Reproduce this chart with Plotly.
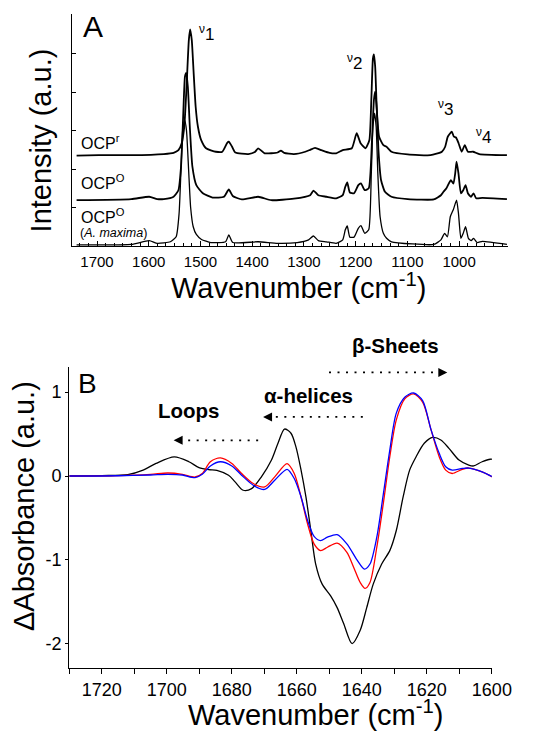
import plotly.graph_objects as go

FONT = "Liberation Sans, Arial, sans-serif"

# ---------------- Panel A : Raman spectra ----------------
ocpr_wn = [1739.5, 1696.7, 1633.8, 1570.9, 1552.0, 1542.6, 1536.3, 1531.3, 1526.9, 1522.5, 1520.0,
           1516.8, 1513.1, 1509.3, 1504.9, 1498.6, 1489.2, 1470.3, 1457.7, 1448.3, 1445.2, 1438.9,
           1432.6, 1407.4, 1394.8, 1388.5, 1375.9, 1350.8, 1344.5, 1338.2, 1319.4, 1297.4, 1287.9,
           1278.5, 1265.9, 1250.2, 1237.6, 1225.0, 1207.4, 1198.0, 1190.4, 1181.0, 1173.5, 1169.7,
           1166.6, 1164.7, 1162.2, 1159.0, 1154.6, 1146.4, 1140.2, 1130.7, 1099.3, 1055.3, 1033.2,
           1026.9, 1021.9, 1014.0, 1010.0, 1006.0, 1001.0, 995.0, 989.0, 983.0, 973.0, 961.0, 907.5]
ocpr_int = [2.35, 2.36, 2.36, 2.39, 2.42, 2.49, 2.67, 3.10, 4.14, 5.35, 5.63,
            5.35, 4.48, 3.62, 3.10, 2.75, 2.54, 2.45, 2.45, 2.68, 2.71, 2.58,
            2.43, 2.39, 2.44, 2.54, 2.41, 2.43, 2.48, 2.42, 2.39, 2.45, 2.50,
            2.55, 2.49, 2.42, 2.41, 2.49, 2.54, 2.93, 2.67, 2.54, 2.75, 3.79,
            4.87, 4.98, 4.66, 3.53, 2.84, 2.62, 2.58, 2.45, 2.38, 2.36, 2.45,
            2.58, 2.84, 2.97, 2.84, 2.82, 2.67, 2.45, 2.62, 2.45, 2.45, 2.39, 2.36]

ocpo_wn = [1739.5, 1633.8, 1599.2, 1583.5, 1570.9, 1552.0, 1542.6, 1537.6, 1533.2, 1530.0, 1527.5,
           1524.4, 1520.6, 1515.6, 1508.0, 1495.4, 1476.6, 1454.6, 1445.2, 1437.6, 1420.0, 1388.5,
           1363.4, 1319.4, 1287.9, 1281.6, 1272.2, 1256.5, 1237.6, 1225.0, 1220.0, 1216.2, 1211.2,
           1203.0, 1194.9, 1189.8, 1182.3, 1174.7, 1168.4, 1164.7, 1162.2, 1159.0, 1155.9, 1150.8,
           1143.3, 1130.7, 1099.3, 1049.0, 1035.1, 1030.1, 1024.5, 1016.0, 1011.0, 1007.5, 1004.9,
           1001.2, 996.5, 992.0, 987.5, 983.0, 977.0, 972.0, 967.0, 955.0, 907.5]
ocpo_int = [1.19, 1.22, 1.28, 1.22, 1.22, 1.28, 1.45, 2.06, 3.45, 4.40, 4.50,
            4.14, 3.10, 2.06, 1.58, 1.37, 1.26, 1.28, 1.47, 1.30, 1.21, 1.28,
            1.19, 1.23, 1.32, 1.44, 1.32, 1.28, 1.24, 1.32, 1.54, 1.65, 1.39,
            1.37, 1.58, 1.63, 1.45, 1.50, 2.75, 3.79, 4.01, 3.53, 2.49, 1.71,
            1.41, 1.28, 1.22, 1.21, 1.32, 1.41, 1.50, 1.71, 1.62, 1.89, 2.19,
            1.89, 1.37, 1.45, 1.58, 1.37, 1.28, 1.37, 1.24, 1.25, 1.22]

amax_wn = [1739.5, 1633.8, 1599.2, 1583.5, 1558.3, 1547.0, 1541.3, 1537.6, 1534.4, 1530.5, 1527.0,
           1523.0, 1519.0, 1514.0, 1508.0, 1498.0, 1480.0, 1451.4, 1445.2, 1437.6, 1388.5, 1350.8,
           1313.1, 1291.0, 1281.6, 1272.2, 1256.5, 1237.6, 1225.0, 1220.0, 1216.2, 1211.2, 1203.0,
           1194.9, 1189.8, 1182.3, 1174.7, 1169.7, 1166.6, 1163.4, 1160.3, 1157.1, 1152.7, 1146.4,
           1140.2, 1130.7, 1049.0, 1035.1, 1028.0, 1022.5, 1017.0, 1011.0, 1004.9, 1001.2, 996.5,
           992.0, 987.5, 982.0, 976.6, 972.0, 965.0, 955.0, 907.5]
amax_int = [0.03, 0.04, 0.14, 0.07, 0.11, 0.24, 0.85, 2.00, 3.00, 3.27, 3.00,
            2.00, 1.00, 0.50, 0.30, 0.17, 0.09, 0.11, 0.29, 0.09, 0.11, 0.07,
            0.09, 0.16, 0.26, 0.14, 0.11, 0.07, 0.16, 0.42, 0.52, 0.23, 0.23,
            0.46, 0.53, 0.33, 0.42, 1.89, 3.10, 3.45, 3.10, 1.89, 0.76, 0.33,
            0.20, 0.11, 0.04, 0.16, 0.33, 0.24, 0.76, 0.95, 1.19, 0.85, 0.20,
            0.33, 0.50, 0.20, 0.14, 0.20, 0.09, 0.12, 0.04]

# ---------------- Panel B : FTIR difference spectra ----------------
black_wn = [1730, 1720, 1712, 1707.3, 1703.3, 1697.7, 1693.2, 1690.1, 1687.1, 1684.6, 1681, 1679,
            1676.5, 1673.9, 1670.9, 1667.8, 1665.8, 1663.8, 1661.8, 1660.3, 1658.7, 1657.2, 1655.7,
            1654.2, 1652.2, 1649.6, 1647.6, 1645.6, 1643, 1640.5, 1638.5, 1636.5, 1633.9, 1631.4,
            1629.4, 1627.3, 1625.3, 1623.3, 1620.8, 1618.2, 1615.7, 1613.2, 1610.1, 1607.1, 1605.6,
            1603, 1600.5, 1598.3]
black_abs = [0.0, 0.005, 0.016, 0.07, 0.15, 0.227, 0.17, 0.10, 0.076, 0.068, 0.008, -0.07,
             -0.17, -0.15, -0.01, 0.19, 0.39, 0.56, 0.51, 0.35, 0.07, -0.25, -0.65,
             -1.05, -1.29, -1.43, -1.57, -1.76, -2.0, -1.84, -1.57, -1.29, -1.05, -0.89,
             -0.65, -0.25, 0.07, 0.23, 0.39, 0.46, 0.43, 0.33, 0.19, 0.13, 0.12,
             0.17, 0.20, 0.19]

red_wn = [1730, 1715, 1705, 1699.7, 1695.2, 1691.3, 1689.1, 1686.6, 1683.5, 1680, 1677, 1673.4,
          1669.9, 1666.8, 1663, 1660.8, 1658.7, 1656.7, 1654.7, 1652.7, 1650.6, 1647.6, 1644.6,
          1642.5, 1640.5, 1639, 1637.5, 1635.4, 1633.4, 1631.4, 1629.4, 1626.8, 1624.1, 1621.3,
          1618.7, 1616.2, 1614.2, 1612.2, 1609.1, 1607.1, 1603, 1598.3]
red_abs = [0.0, 0.005, 0.02, 0.036, 0.02, -0.012, 0.03, 0.17, 0.215, 0.15, 0.03, -0.09,
           -0.13, -0.01, 0.147, 0.03, -0.25, -0.57, -0.81, -0.89, -0.85, -0.80, -0.91,
           -1.09, -1.27, -1.34, -1.27, -0.85, -0.33, 0.23, 0.67, 0.92, 0.98, 0.88,
           0.55, 0.23, 0.07, 0.03, 0.08, 0.095, 0.048, -0.044]

blue_wn = [1730, 1715, 1705, 1699.7, 1695.2, 1691.3, 1689.1, 1686.6, 1683.5, 1680, 1677, 1673.4,
           1669.9, 1666.8, 1663, 1660.8, 1658.7, 1656.7, 1654.7, 1652.7, 1650.6, 1647.6, 1644.6,
           1641.5, 1639.2, 1637.5, 1635.4, 1633.4, 1631.4, 1629.4, 1626.8, 1624.1, 1621.3,
           1618.7, 1616.2, 1614.2, 1612.2, 1609.1, 1607.1, 1603, 1598.3]
blue_abs = [0.0, 0.003, 0.012, 0.02, 0.012, -0.02, 0.02, 0.12, 0.17, 0.12, 0.01, -0.11,
            -0.16, -0.05, 0.08, -0.03, -0.25, -0.53, -0.72, -0.77, -0.73, -0.70, -0.81,
            -1.0, -1.11, -1.05, -0.73, -0.22, 0.31, 0.75, 0.94, 0.99, 0.90,
            0.55, 0.27, 0.11, 0.07, 0.09, 0.095, 0.05, -0.04]

top_x_ticks = [1700, 1600, 1500, 1400, 1300, 1200, 1100, 1000]
bot_x_ticks = [1720, 1700, 1680, 1660, 1640, 1620, 1600]
bot_y_ticks = [1, 0, -1, -2]
bot_y_text = ["1", "0", "-1", "-2"]

W, H = 534, 732


def px(x):
    return x / W


def py(y):
    return 1 - y / H


fig = go.Figure()
for xs, ys, w in [(ocpr_wn, ocpr_int, 1.8), (ocpo_wn, ocpo_int, 1.8), (amax_wn, amax_int, 1.3)]:
    fig.add_trace(go.Scatter(x=xs, y=ys, mode="lines", xaxis="x", yaxis="y",
                             line=dict(color="black", width=w, shape="spline", smoothing=0.5),
                             showlegend=False, hoverinfo="skip"))
for xs, ys, c in [(black_wn, black_abs, "black"), (red_wn, red_abs, "#ff0000"), (blue_wn, blue_abs, "#0000ff")]:
    fig.add_trace(go.Scatter(x=xs, y=ys, mode="lines", xaxis="x2", yaxis="y2",
                             line=dict(color=c, width=1.3, shape="spline", smoothing=0.8),
                             showlegend=False, hoverinfo="skip"))

axis_common = dict(showgrid=False, zeroline=False, showline=True, linecolor="black",
                   linewidth=1.2, tickcolor="black", tickwidth=1, mirror=False)

fig.update_layout(
    width=W, height=H, margin=dict(l=0, r=0, t=0, b=0),
    paper_bgcolor="white", plot_bgcolor="white",
    font=dict(family=FONT, color="black"),
    xaxis=dict(domain=[px(75), px(528)], range=[1748, 905], anchor="y",
               tickvals=top_x_ticks, ticks="inside", ticklen=5,
               tickfont=dict(size=15, family=FONT), ticklabelstandoff=2,
               minor=dict(ticks="inside", ticklen=3, dtick=100 / 6, tick0=1000,
                          tickcolor="black", showgrid=False),
               **axis_common),
    yaxis=dict(domain=[py(246), py(14)], range=[0, 6.03], anchor="x",
               tickvals=[0, 1, 2, 3, 4, 5], ticks="inside", ticklen=4,
               showticklabels=False, **axis_common),
    xaxis2=dict(domain=[px(72), px(511)], range=[1730, 1600], anchor="y2",
                tickvals=bot_x_ticks, ticks="outside", ticklen=5,
                tickfont=dict(size=18, family=FONT),
                minor=dict(ticks="outside", ticklen=5, dtick=10, tick0=1600,
                           tickcolor="black", showgrid=False),
                **axis_common),
    yaxis2=dict(domain=[py(668), py(367)], range=[-2.29, 1.30], anchor="x2",
                tickvals=bot_y_ticks, ticktext=bot_y_text, ticks="outside", ticklen=3,
                tickfont=dict(size=18, family=FONT), **axis_common),
)

ann = []


def text(x, y, t, size, xanchor="center", yanchor="middle", angle=0, xref="paper", yref="paper"):
    ann.append(dict(x=x, y=y, xref=xref, yref=yref, text=t, showarrow=False,
                    font=dict(size=size, family=FONT, color="black"),
                    xanchor=xanchor, yanchor=yanchor, textangle=angle))


# axis titles
text(px(310), py(286), "Wavenumber (cm<sup>-1</sup>)", 29)
text(px(43), py(140), "Intensity (a.u.)", 29, angle=-90)
text(px(328), py(713), "Wavenumber (cm<sup>-1</sup>)", 29)
text(px(25), py(506), "ΔAbsorbance (a.u.)", 29, angle=-90)

# panel A labels
text(px(97), py(27), "A", 30)
text(px(215), py(33), "<sup>ν</sup>1", 17)
text(px(368), py(62), "<sup>ν</sup>2", 17)
text(px(463), py(108), "<sup>ν</sup>3", 17)
text(px(502), py(136), "<sup>ν</sup>4", 17)
text(px(82), py(142), "OCP<sup>r</sup>", 16, xanchor="left")
text(px(82), py(182), "OCP<sup>O</sup>", 16, xanchor="left")
text(px(82), py(216), "OCP<sup>O</sup>", 16, xanchor="left")
text(px(81), py(233), "(<i>A. maxima</i>)", 12.5, xanchor="left")

# panel B labels
text(1724.4, 1.10, "B", 28, xref="x2", yref="y2")
text(1629.6, py(345), "<b>β-Sheets</b>", 20.5, xref="x2")
text(1656.5, 0.964, "<b>α-helices</b>", 20.5, xref="x2", yref="y2")
text(1693.2, 0.785, "<b>Loops</b>", 20.5, xref="x2", yref="y2")

# dotted arrows
arrows = [(1650.1, 1615.7, 1613.7, 1.235), (1639.7, 1667.8, 1670.4, 0.705), (1671.9, 1695.7, 1697.9, 0.426)]
shapes = []
for x0, x1, tip, yv in arrows:
    shapes.append(dict(type="line", xref="x2", yref="y2", x0=x0, x1=x1, y0=yv, y1=yv,
                       line=dict(color="black", width=1.8, dash="2px,6.5px")))
    ann.append(dict(x=tip, y=yv, ax=x1, ay=yv, xref="x2", yref="y2", axref="x2", ayref="y2",
                    text="", showarrow=True, arrowhead=2, arrowsize=1.2, arrowwidth=1.5,
                    arrowcolor="black", standoff=0, startstandoff=0))

fig.update_layout(annotations=ann, shapes=shapes)
fig.write_html("out.html", config={"displayModeBar": False},
               post_script="document.body.style.margin='0';document.body.style.padding='0';"
                           "document.body.style.overflow='hidden';")
